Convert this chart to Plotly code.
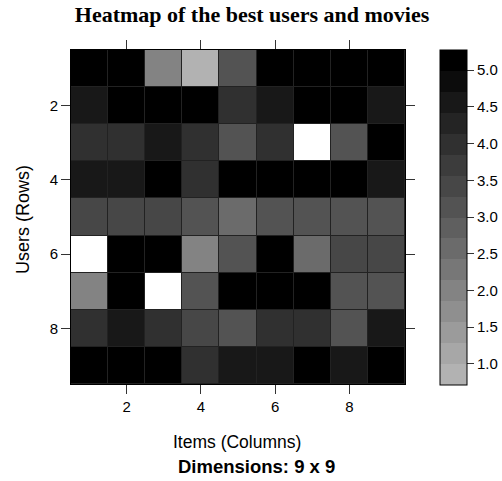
import plotly.graph_objects as go

# Ratings of the top users (rows) for the top movies (columns); None = not rated
users = list(range(1, 10))
items = list(range(1, 10))
ratings = [
    [5, 5, 2, 1, 3, 5, 5, 5, 5],
    [4.5, 5, 5, 5, 4, 4.5, 5, 5, 4.5],
    [4, 4, 4.5, 4, 3, 4, None, 3, 5],
    [4.5, 4.5, 5, 4, 5, 5, 5, 5, 4.5],
    [3.5, 3.5, 3.5, 3, 2.5, 3, 3, 3, 3],
    [None, 5, 5, 2, 3, 5, 2.5, 3.5, 3.5],
    [2, 5, None, 3, 5, 5, 5, 3, 3],
    [4, 4.5, 4, 3.5, 3, 4, 4, 3, 4.5],
    [5, 5, 5, 4, 4.5, 4.5, 5, 4.5, 5],
]
x_ticks = [2, 4, 6, 8]
y_ticks = [2, 4, 6, 8]
key_ticks = [1.0, 1.5, 2.0, 2.5, 3.0, 3.5, 4.0, 4.5, 5.0]

# Colour key: rating range padded by 7% each side, cut into 16 grey levels
z_lo, z_hi = 1.0, 5.0
pad = 0.07 * (z_hi - z_lo)
zmin, zmax = z_lo - pad - 1e-4, z_hi + pad
n_levels = 16
colorscale = []
for i in range(n_levels):
    g = round(255 * 0.7 * (1 - i / (n_levels - 1)))
    c = f"rgb({g},{g},{g})"
    colorscale.append([i / n_levels, c])
    colorscale.append([(i + 1) / n_levels, c])

# Unrated cells are painted white
missing = [[1 if v is None else None for v in row] for row in ratings]

W, H = 502, 481
L, R, T, B = 71, 97, 50, 97
pw, ph = W - L - R, H - T - B

fig = go.Figure()
fig.add_trace(go.Heatmap(
    z=missing, x=items, y=users,
    colorscale=[[0, "white"], [1, "white"]],
    showscale=False, xgap=1, ygap=1, hoverinfo="skip",
))
fig.add_trace(go.Heatmap(
    z=ratings, x=items, y=users,
    colorscale=colorscale, zmin=zmin, zmax=zmax,
    xgap=1, ygap=1,
    colorbar=dict(
        x=(439.5 - L) / pw, xanchor="left", xpad=0,
        y=0.5, yanchor="middle", ypad=0,
        len=ph + 0.5, lenmode="pixels",
        thickness=27, thicknessmode="pixels",
        outlinewidth=1, outlinecolor="black",
        tickmode="array", tickvals=key_ticks, tickformat=".1f",
        ticks="outside", ticklen=7, tickcolor="#333",
        tickfont=dict(family="Liberation Sans", size=15, color="black"),
    ),
))

axis_common = dict(
    showgrid=False, zeroline=False,
    showline=True, linecolor="black", linewidth=1, mirror="ticks",
    ticks="outside", ticklen=9, tickcolor="#333", tickwidth=1,
    tickfont=dict(family="Liberation Sans", size=15, color="black"),
    tickmode="array",
)
fig.update_xaxes(range=[0.5, 9.5], tickvals=x_ticks, **axis_common)
fig.update_yaxes(range=[9.5, 0.5], tickvals=y_ticks, **axis_common)

fig.update_layout(
    width=W, height=H,
    margin=dict(l=L, r=R, t=T, b=B, autoexpand=False),
    paper_bgcolor="white", plot_bgcolor="#222222",
    title=dict(
        text="<b>Heatmap of the best users and movies</b>",
        font=dict(family="Liberation Serif", size=22, color="black"),
        x=252 / W, xanchor="center", xref="container",
        y=1 - 14 / H, yanchor="middle", yref="container",
    ),
    annotations=[
        dict(text="Items (Columns)", x=(237 - L) / pw, y=(T + ph - 442) / ph,
             xref="paper", yref="paper", showarrow=False,
             xanchor="center", yanchor="middle",
             font=dict(family="Liberation Sans", size=17.5, color="black")),
        dict(text="<b>Dimensions: 9 x 9</b>", x=(256 - L) / pw, y=(T + ph - 466) / ph,
             xref="paper", yref="paper", showarrow=False,
             xanchor="center", yanchor="middle",
             font=dict(family="Liberation Sans", size=18.5, color="black")),
        dict(text="Users (Rows)", x=(23 - L) / pw, y=(T + ph - 220) / ph,
             xref="paper", yref="paper", showarrow=False, textangle=-90,
             xanchor="center", yanchor="middle",
             font=dict(family="Liberation Sans", size=18, color="black")),
    ],
)

fig.write_html("out.html")
